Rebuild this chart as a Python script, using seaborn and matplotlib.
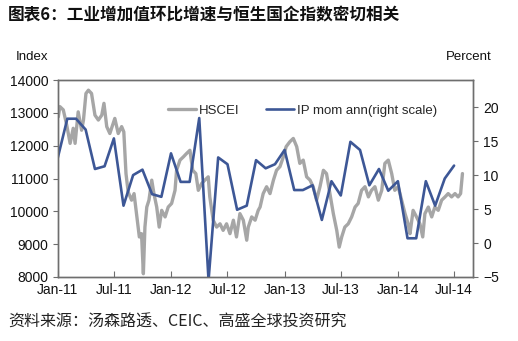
import matplotlib
matplotlib.use("Agg")
import matplotlib.pyplot as plt
import matplotlib.dates as mdates
from matplotlib.lines import Line2D
import seaborn as sns
import pandas as pd

# ---------------- data ----------------
hsce_dates = [
    "2011-01-03", "2011-01-08", "2011-01-19", "2011-01-30", "2011-02-10", "2011-02-20",
    "2011-02-26", "2011-03-08", "2011-03-19", "2011-03-25", "2011-04-02", "2011-04-10",
    "2011-04-20", "2011-05-01", "2011-05-12", "2011-05-23", "2011-05-30", "2011-06-08",
    "2011-06-18", "2011-07-04", "2011-07-15", "2011-07-26", "2011-08-02", "2011-08-09",
    "2011-08-16", "2011-08-27", "2011-09-04", "2011-09-12", "2011-09-21", "2011-09-28",
    "2011-10-04", "2011-10-09", "2011-10-15", "2011-10-22", "2011-10-31", "2011-11-07",
    "2011-11-16", "2011-11-24", "2011-12-02", "2011-12-13", "2011-12-23", "2012-01-03",
    "2012-01-14", "2012-01-19", "2012-01-30", "2012-02-10", "2012-02-20", "2012-03-02",
    "2012-03-11", "2012-03-21", "2012-03-29", "2012-04-09", "2012-04-19", "2012-04-30",
    "2012-05-05", "2012-05-16", "2012-05-27", "2012-06-07", "2012-06-17", "2012-06-28",
    "2012-07-09", "2012-07-20", "2012-07-30", "2012-08-10", "2012-08-21", "2012-09-01",
    "2012-09-06", "2012-09-17", "2012-09-28", "2012-10-08", "2012-10-14", "2012-10-24",
    "2012-11-04", "2012-11-15", "2012-11-26", "2012-12-06", "2012-12-17", "2012-12-28",
    "2013-01-06", "2013-01-18", "2013-01-29", "2013-02-09", "2013-02-19", "2013-03-02",
    "2013-03-13", "2013-03-24", "2013-04-03", "2013-04-14", "2013-04-25", "2013-05-06",
    "2013-05-16", "2013-05-27", "2013-06-07", "2013-06-18", "2013-06-26", "2013-07-04",
    "2013-07-14", "2013-07-25", "2013-08-05", "2013-08-16", "2013-08-26", "2013-09-06",
    "2013-09-17", "2013-09-28", "2013-10-08", "2013-10-19", "2013-10-30", "2013-11-10",
    "2013-11-20", "2013-12-01", "2013-12-12", "2013-12-22", "2014-01-02", "2014-01-13",
    "2014-01-24", "2014-02-03", "2014-02-09", "2014-02-19", "2014-03-02", "2014-03-13",
    "2014-03-22", "2014-03-29", "2014-04-09", "2014-04-20", "2014-04-30", "2014-05-11",
    "2014-05-22", "2014-06-02", "2014-06-12", "2014-06-23", "2014-07-04", "2014-07-14",
    "2014-07-22", "2014-07-28",
]
hsce_values = [
    12880, 13190, 13090, 12630, 12070, 12530,
    12070, 13030, 12470, 12780, 13590, 13690,
    13590, 12930, 12780, 12930, 13290, 12580,
    12370, 12830, 12370, 12580, 12420, 11150,
    10590, 10340, 10540, 9930, 9220, 9320,
    8100, 9520, 10130, 10340, 10950, 10540,
    10130, 9520, 10030, 9830, 10130, 10240,
    10640, 11250, 11560, 11660, 11760, 11860,
    11250, 11150, 10640, 10850, 10950, 11050,
    10440, 9730, 9520, 9620, 9420, 9620,
    9320, 9730, 9220, 9930, 9730, 9120,
    9520, 9830, 9730, 10030, 10130, 10540,
    10750, 10540, 10950, 11250, 11360, 11660,
    11970, 12120, 12220, 11970, 11460, 11560,
    11050, 10950, 10750, 10340, 10750, 11250,
    11150, 10540, 9930, 9420, 8910, 9220,
    9520, 9620, 9830, 10130, 10240, 10640,
    10750, 10440, 10640, 10750, 10340, 10640,
    11460, 11560, 11150, 10640, 10750, 10340,
    9930, 9620, 9320, 10030, 9830, 9620,
    9220, 9930, 10130, 9830, 10130, 10030,
    10340, 10440, 10540, 10440, 10540, 10440,
    10540, 11150,
]

ip_months = pd.date_range("2011-01-01", "2014-07-01", freq="MS")
ip_values = [
    12.5, 18.3, 18.3, 16.7, 10.9, 11.3, 15.4, 5.5, 10.0, 10.8, 7.2, 6.8,
    13.2, 9.0, 9.0, 18.4, -5.5, 12.6, 11.6, 4.9, 5.5, 12.2, 11.0, 11.6,
    13.7, 7.8, 7.8, 8.5, 3.4, 9.1, 7.0, 14.9, 13.7, 8.5, 10.9, 7.7,
    9.1, 0.7, 0.7, 9.1, 5.5, 9.5, 11.4,
]

x_ticks = pd.date_range("2011-01-01", "2014-07-01", freq="6MS")
left_ticks = [8000, 9000, 10000, 11000, 12000, 13000, 14000]
right_ticks = [-5, 0, 5, 10, 15, 20]

title_text = "图表6：工业增加值环比增速与恒生国企指数密切相关"
source_text = "资料来源：汤森路透、CEIC、高盛全球投资研究"
legend_labels = ["HSCEI", "IP mom ann(right scale)"]

# ---------------- style ----------------
sns.set_theme(style="white")
plt.rcParams["font.family"] = ["Liberation Sans", "Noto Sans CJK SC", "DejaVu Sans"]
CJK = ["Noto Sans CJK SC", "DejaVu Sans"]

GRAY = "#a6a6a6"
BLUE = "#3d5796"
FRAME = "#6e6e6e"

df_h = pd.DataFrame({"date": pd.to_datetime(hsce_dates), "value": hsce_values})
df_ip = pd.DataFrame({"date": ip_months, "value": ip_values})

fig = plt.figure(figsize=(5.18, 3.41), dpi=100)
ax = fig.add_axes([57.7 / 518, 1 - 277 / 341, (472.7 - 57.7) / 518, (277 - 80) / 341])
ax2 = ax.twinx()

sns.lineplot(data=df_h, x="date", y="value", ax=ax, color=GRAY, linewidth=2.4,
             legend=False)
sns.lineplot(data=df_ip, x="date", y="value", ax=ax2, color=BLUE, linewidth=1.9,
             legend=False)

ax.set_xlim(pd.Timestamp("2011-01-01"), pd.Timestamp("2014-08-30"))
ax.set_ylim(8000, 14000)
ax2.set_ylim(-5, 24)

ax.set_xticks(x_ticks)
ax.xaxis.set_major_formatter(mdates.DateFormatter("%b-%y"))
ax.set_yticks(left_ticks)
ax2.set_yticks(right_ticks)

for a in (ax, ax2):
    a.set_xlabel("")
    a.set_ylabel("")
    for s in a.spines.values():
        s.set_color(FRAME)
        s.set_linewidth(1.0)

ax.tick_params(axis="y", direction="out", length=3.5, width=0.8, color=FRAME,
               labelsize=10, pad=3, labelcolor="#111111", left=True)
ax.tick_params(axis="x", direction="in", length=4, width=0.8, color=FRAME,
               labelsize=10, pad=4, labelcolor="#111111", bottom=True)
ax2.tick_params(axis="y", direction="out", length=3.5, width=0.8, color=FRAME,
                labelsize=10, pad=4, labelcolor="#111111", right=True)

# axis unit labels
fig.text(32 / 518, 1 - 57 / 341, "Index", ha="center", va="center", fontsize=9.5,
         color="#111111")
fig.text(469 / 518, 1 - 57 / 341, "Percent", ha="center", va="center", fontsize=9.5,
         color="#111111")

# legend
handles = [Line2D([], [], color=GRAY, linewidth=2.4),
           Line2D([], [], color=BLUE, linewidth=1.9)]
fig.legend(handles, legend_labels, loc="center left",
           bbox_to_anchor=(168 / 518, 1 - 111 / 341), ncol=2, frameon=False,
           fontsize=9.5, handlelength=2.1, handletextpad=0.25, columnspacing=2.0,
           borderpad=0, borderaxespad=0)

# title and source
fig.text(8 / 518, 1 - 15 / 341, title_text, ha="left", va="center", fontsize=12,
         fontweight="bold", family=CJK, color="#111111")
fig.text(8 / 518, 1 - 322 / 341, source_text, ha="left", va="center", fontsize=11.5,
         family=CJK, color="#222222")

fig.savefig("out.png", dpi=100)
